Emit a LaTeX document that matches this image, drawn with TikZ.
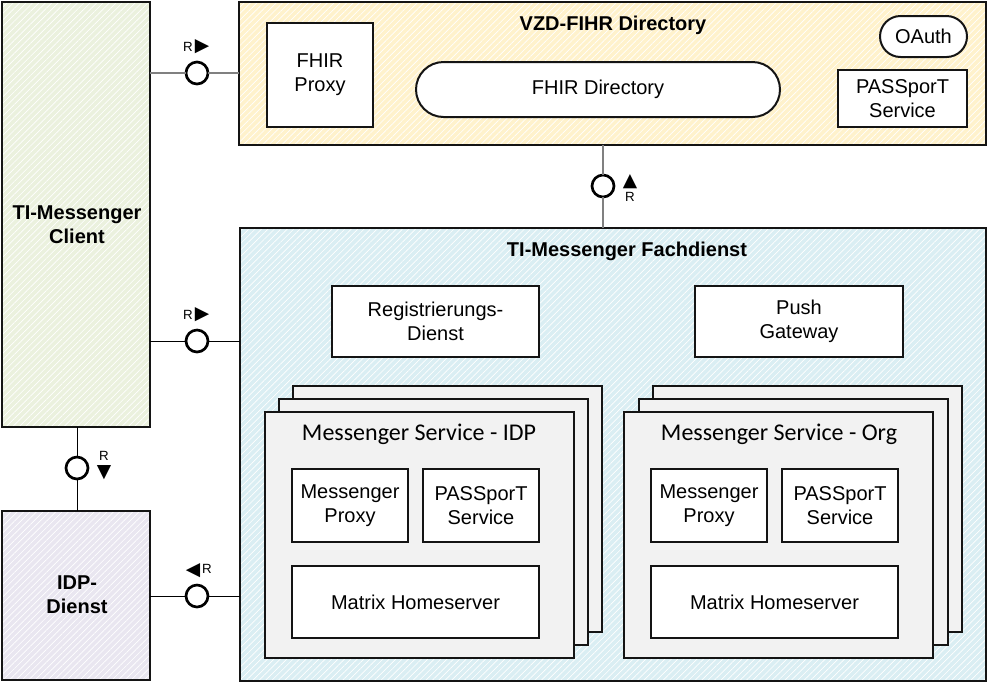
\documentclass[tikz,border=0pt]{standalone}
\usepackage{fontspec}
\setmainfont{Liberation Sans}
\newfontfamily\calib{Carlito}
\newfontfamily\dvs{DejaVu Sans}
\usetikzlibrary{patterns.meta,shapes.misc}
\definecolor{cgreen}{RGB}{235,241,222}
\definecolor{clav}{RGB}{233,230,240}
\definecolor{corange}{RGB}{255,242,204}
\definecolor{cblue}{RGB}{218,238,243}
\definecolor{cgray}{RGB}{242,242,242}
\definecolor{edge}{RGB}{20,20,20}
\definecolor{lgray}{RGB}{128,128,128}
\newcommand{\rbox}[7][]{\node[#1, minimum width={(#5-#3)*0.75pt}, minimum height={(#6-#4)*0.75pt}] (#2) at ({(#3+#5)/2},{(#4+#6)/2}) {#7};}
\tikzset{
  x=0.75pt, y=-0.75pt,
  every node/.style={font=\fontsize{15}{18}\selectfont, inner sep=0pt, outer sep=0pt, align=center, text=black},
  hatch/.style={preaction={fill=#1}, pattern={Lines[angle=45,distance=3.4pt,line width=0.5pt]}, pattern color=white},
  bigbox/.style={rectangle, draw=edge, line width=1.6pt, hatch=#1},
  inbox/.style={rectangle, draw=edge, line width=1.5pt, fill=white},
  stackbox/.style={rectangle, draw=edge, line width=1.5pt, fill=cgray},
  pill/.style={rounded rectangle, draw=edge, line width=1.5pt, fill=white},
  title/.style={font=\bfseries\fontsize{15}{18}\selectfont},
  stitle/.style={font=\calib\fontsize{18}{20}\selectfont},
  iface/.style={circle, draw=black, line width=2pt, fill=white, minimum size=16.5pt},
  conn/.style={draw=black, line width=0.75pt},
  gconn/.style={draw=lgray, line width=1.2pt},
  rlabel/.style={font=\fontsize{10}{10}\selectfont},
  arr/.style={font=\dvs\fontsize{14}{14}\selectfont},
}
\begin{document}
\begin{tikzpicture}
\useasboundingbox (0,0) rectangle (989,683);
% main boxes
\rbox[bigbox=cgreen]{client}{2}{2}{150}{427}{}
\node[title] (clientt) at (77,225) {TI-Messenger\\Client};
\rbox[bigbox=clav]{idp}{2}{511}{150}{680}{}
\node[title] (idpt) at (77,595) {IDP-\\Dienst};
\rbox[bigbox=corange]{vzd}{239}{2}{986}{145}{}
\node[title] (vzdt) at (613,25) {VZD-FIHR Directory};
\rbox[bigbox=cblue]{fd}{240}{228}{986}{681}{}
\node[title] (fdt) at (627,251) {TI-Messenger Fachdienst};
% VZD contents
\rbox[inbox]{fproxy}{267}{23}{373}{127}{FHIR\\Proxy}
\rbox[pill]{fdir}{416}{62}{780}{117}{FHIR Directory}
\rbox[pill]{oauth}{880}{16}{967}{57}{OAuth}
\rbox[inbox]{vpass}{838}{70}{967}{127}{PASSporT\\Service}
% Fachdienst contents
\rbox[inbox]{reg}{332}{286}{539}{357}{Registrierungs-\\Dienst}
\rbox[inbox]{push}{695}{286}{903}{357}{Push\\Gateway}
% IDP stack
\rbox[stackbox]{sa3}{293}{386}{602}{632}{}
\rbox[stackbox]{sa2}{279}{399}{588}{645}{}
\rbox[stackbox]{sa1}{265}{412}{574}{658}{}
\node[stitle] (sat) at (419,434) {Messenger Service - IDP};
\rbox[inbox]{amp}{292}{469}{408}{542}{Messenger\\Proxy}
\rbox[inbox]{aps}{423}{469}{539}{542}{PASSporT\\Service}
\rbox[inbox]{amh}{292}{566}{539}{638}{Matrix Homeserver}
% Org stack
\rbox[stackbox]{sb3}{653}{386}{962}{632}{}
\rbox[stackbox]{sb2}{639}{399}{948}{645}{}
\rbox[stackbox]{sb1}{624}{412}{933}{658}{}
\node[stitle] (sbt) at (779,434) {Messenger Service - Org};
\rbox[inbox]{bmp}{651}{469}{767}{542}{Messenger\\Proxy}
\rbox[inbox]{bps}{782}{469}{898}{542}{PASSporT\\Service}
\rbox[inbox]{bmh}{651}{566}{898}{638}{Matrix Homeserver}
% interfaces
\node[iface] (i1) at (197,73) {};
\node[iface] (i2) at (603,186) {};
\node[iface] (i3) at (197,341) {};
\node[iface] (i4) at (77,468) {};
\node[iface] (i5) at (197,596) {};
\draw[gconn] (client.east |- i1) -- (i1.west);
\draw[gconn] (i1.east) -- (vzd.west |- i1);
\draw[gconn] (vzd.south -| i2) -- (i2.north);
\draw[gconn] (i2.south) -- (fd.north -| i2);
\draw[conn] (client.east |- i3) -- (i3.west);
\draw[conn] (i3.east) -- (fd.west |- i3);
\draw[conn] (client.south -| i4) -- (i4.north);
\draw[conn] (i4.south) -- (idp.north -| i4);
\draw[conn] (idp.east |- i5) -- (i5.west);
\draw[conn] (i5.east) -- (fd.west |- i5);
% labels
\node[rlabel] (l1) at (188,47) {R};
\node[arr] (a1) at (202,47) {▶};
\node[rlabel] (l2) at (630,197) {R};
\node[arr] (a2) at (630,182) {▲};
\node[rlabel] (l3) at (188,315) {R};
\node[arr] (a3) at (202,315) {▶};
\node[rlabel] (l4) at (104,456) {R};
\node[arr] (a4) at (104,473) {▼};
\node[rlabel] (l5) at (207,569) {R};
\node[arr] (a5) at (193,571) {◀};
\end{tikzpicture}
\end{document}
